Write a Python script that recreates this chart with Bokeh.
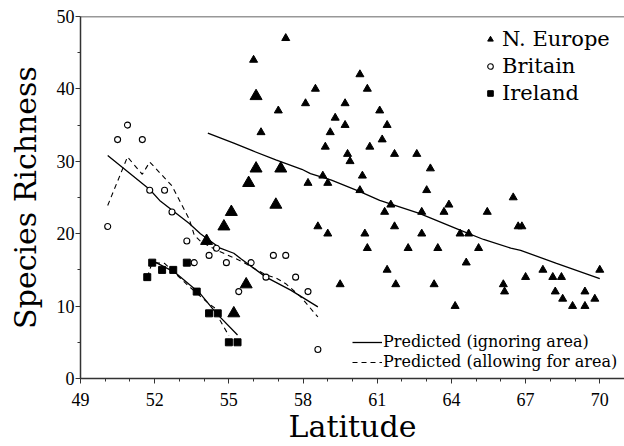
from bokeh.plotting import figure
from bokeh.models import FixedTicker, Legend, LegendItem, Span
from bokeh.embed import file_html
from bokeh.resources import INLINE

# ---- data ----
ne_lat = [56.0, 57.3, 57.0, 56.3, 58.1, 58.5, 58.2, 58.6, 58.8, 59.0,
          59.0, 59.5, 58.9, 59.1, 59.3, 59.7, 59.7, 59.8, 59.9, 60.3,
          60.6, 60.4, 60.3, 60.5, 60.6, 60.7, 61.1, 61.4, 61.2, 61.7,
          62.6, 63.15, 63.0, 63.9, 61.55, 61.3, 62.8, 63.7, 65.45, 61.7,
          62.8, 64.35, 64.7, 62.25, 63.45, 65.1, 64.6, 61.4, 61.75, 63.3,
          66.1, 66.15, 64.15, 66.5, 66.7, 66.85, 67.7, 70.0, 67.0, 68.1,
          68.45, 68.2, 69.4, 68.5, 69.8, 68.9, 69.4]
ne_rich = [44, 47, 37, 34, 38, 40, 27, 21, 28, 27,
           20, 13, 32, 34, 36, 35, 38, 31, 30, 42,
           40, 28, 26, 20, 18, 32, 37, 35, 33, 31,
           31, 29, 26, 24, 24, 23, 23, 23, 23, 21,
           20, 20, 20, 18, 18, 18, 16, 15, 13, 13,
           13, 12, 10, 25, 21, 21, 15, 15, 14, 14,
           14, 12, 12, 11, 11, 10, 10]
ne_big_lat = [54.1, 54.8, 55.1, 55.2, 55.7, 55.8, 56.1, 56.1, 56.9, 57.1]
ne_big_rich = [19, 21, 23, 9, 13, 27, 39, 29, 24, 29]

gb_lat = [50.1, 50.5, 50.9, 51.5, 51.8, 52.4, 52.7, 53.3, 53.6, 54.2,
          54.5, 54.9, 55.4, 55.9, 56.5, 56.8, 57.3, 57.7, 58.2, 58.6]
gb_rich = [21, 33, 35, 33, 26, 26, 23, 19, 16, 17,
           18, 16, 12, 16, 14, 17, 17, 14, 12, 4]

ie_lat = [51.7, 51.9, 52.3, 52.75, 53.3, 53.7, 54.2, 54.55, 55.0, 55.35]
ie_rich = [14, 16, 15, 15, 16, 12, 9, 9, 5, 5]

ne_pred_lat = [54.15, 55.2, 56.0, 56.9, 57.95, 58.3, 59.15, 60.3, 61.1, 62.7,
               64.35, 65.3, 66.4, 66.8, 68.25, 70.0]
ne_pred = [33.9, 32.5, 31.4, 30.2, 28.9, 28.3, 27.4, 25.8, 24.6, 22.8,
           20.5, 19.2, 18.0, 17.7, 15.9, 13.8]

gb_pred_lat = [50.1, 50.75, 51.8, 52.2, 53.4, 53.85, 54.65, 55.2, 55.5, 56.5, 57.5, 58.6]
gb_pred = [30.8, 29.0, 26.1, 24.6, 21.4, 20.0, 18.0, 17.3, 16.5, 14.0, 12.2, 9.9]
gb_area_lat = [50.1, 50.9, 51.5, 51.8, 52.7, 53.4, 53.6, 53.9, 54.6, 55.5,
               56.5, 56.9, 57.3, 57.9, 58.6]
gb_area = [23.9, 30.6, 28.2, 29.9, 26.6, 22.0, 19.8, 18.8, 17.6, 16.2,
           14.3, 13.9, 13.1, 11.3, 8.5]

ie_pred_lat = [52.0, 52.8, 53.85, 54.5, 55.35]
ie_pred = [16.1, 14.7, 11.7, 9.0, 6.0]
ie_area_lat = [51.7, 51.9, 52.4, 53.3, 54.2, 54.45, 54.65, 55.0]
ie_area = [14.0, 16.0, 15.9, 13.0, 10.3, 9.7, 8.0, 5.9]

x_ticks = [49, 52, 55, 58, 61, 64, 67, 70]
y_ticks = [0, 10, 20, 30, 40, 50]

LABEL_FONT = "DejaVu Serif"
TICK_FONT = "Liberation Serif"

p = figure(width=624, height=446, x_range=(49, 71), y_range=(0, 50),
           output_backend="svg", toolbar_location=None,
           min_border_left=80, min_border_right=0, min_border_top=16,
           min_border_bottom=68)
p.outline_line_color = None
p.xgrid.visible = False
p.ygrid.visible = False
p.background_fill_color = "white"

# lines
r_ne_pred = p.line(ne_pred_lat, ne_pred, line_color="black", line_width=1.3)
p.line(gb_pred_lat, gb_pred, line_color="black", line_width=1.3)
p.line(ie_pred_lat, ie_pred, line_color="black", line_width=1.3)
r_gb_area = p.line(gb_area_lat, gb_area, line_color="black", line_width=1.1, line_dash="5 4")
p.line(ie_area_lat, ie_area, line_color="black", line_width=1.1, line_dash="5 4")

# markers
r_ne = p.scatter(ne_lat, ne_rich, marker="triangle", size=8, fill_color="black", line_color="black")
p.scatter(ne_big_lat, ne_big_rich, marker="triangle", size=12, fill_color="black", line_color="black")
r_gb = p.scatter(gb_lat, gb_rich, marker="circle", size=6, fill_color="white", line_color="black", line_width=1.1)
r_ie = p.scatter(ie_lat, ie_rich, marker="square", size=7, fill_color="black", line_color="black")

# top border
p.add_layout(Span(location=50, dimension="width", line_color="#333333", line_width=1.5))

# axes
for ax in (p.xaxis[0], p.yaxis[0]):
    ax.axis_line_color = "#333333"
    ax.axis_line_width = 1.5
    ax.major_tick_line_color = "#333333"
    ax.minor_tick_line_color = "#333333"
    ax.major_tick_in = 0
    ax.major_tick_out = 5
    ax.minor_tick_in = 0
    ax.minor_tick_out = 3
    ax.major_label_text_font = TICK_FONT
    ax.major_label_text_font_size = "18px"
    ax.major_label_text_font_style = "normal"
    ax.major_label_text_color = "black"
    ax.axis_label_text_font = LABEL_FONT
    ax.axis_label_text_font_style = "normal"
    ax.axis_label_text_font_size = "30px"
    ax.axis_label_text_color = "black"

p.xaxis[0].ticker = FixedTicker(ticks=x_ticks, minor_ticks=list(range(49, 71)))
p.yaxis[0].ticker = FixedTicker(ticks=y_ticks, minor_ticks=[5, 15, 25, 35, 45])
p.xaxis[0].axis_label = "Latitude"
p.yaxis[0].axis_label = "Species Richness"
p.xaxis[0].major_label_standoff = 9
p.xaxis[0].axis_label_standoff = 0
p.yaxis[0].major_label_standoff = 1
p.yaxis[0].axis_label_standoff = 11

leg1 = Legend(items=[LegendItem(label="N. Europe", renderers=[r_ne]),
                     LegendItem(label="Britain", renderers=[r_gb]),
                     LegendItem(label="Ireland", renderers=[r_ie])],
              location=(403, 273), orientation="vertical")
leg1.label_text_font = LABEL_FONT
leg1.label_text_font_style = "normal"
leg1.label_text_font_size = "21px"
leg1.label_text_color = "black"
leg1.glyph_width = 14
leg1.glyph_height = 14
leg1.label_standoff = 5
leg1.spacing = 3
leg1.padding = 0
leg1.margin = 0
leg1.border_line_color = None
leg1.background_fill_alpha = 0

leg2 = Legend(items=[LegendItem(label="Predicted (ignoring area)", renderers=[r_ne_pred]),
                     LegendItem(label="Predicted (allowing for area)", renderers=[r_gb_area])],
              location=(272, 7), orientation="vertical")
leg2.label_text_font = LABEL_FONT
leg2.label_text_font_style = "normal"
leg2.label_text_font_size = "16px"
leg2.label_text_color = "black"
leg2.glyph_width = 30
leg2.glyph_height = 16
leg2.label_standoff = 1
leg2.spacing = 1
leg2.padding = 0
leg2.margin = 0
leg2.border_line_color = None
leg2.background_fill_alpha = 0

p.add_layout(leg1)
p.add_layout(leg2)

open("out.html", "w").write(file_html(p, INLINE))
